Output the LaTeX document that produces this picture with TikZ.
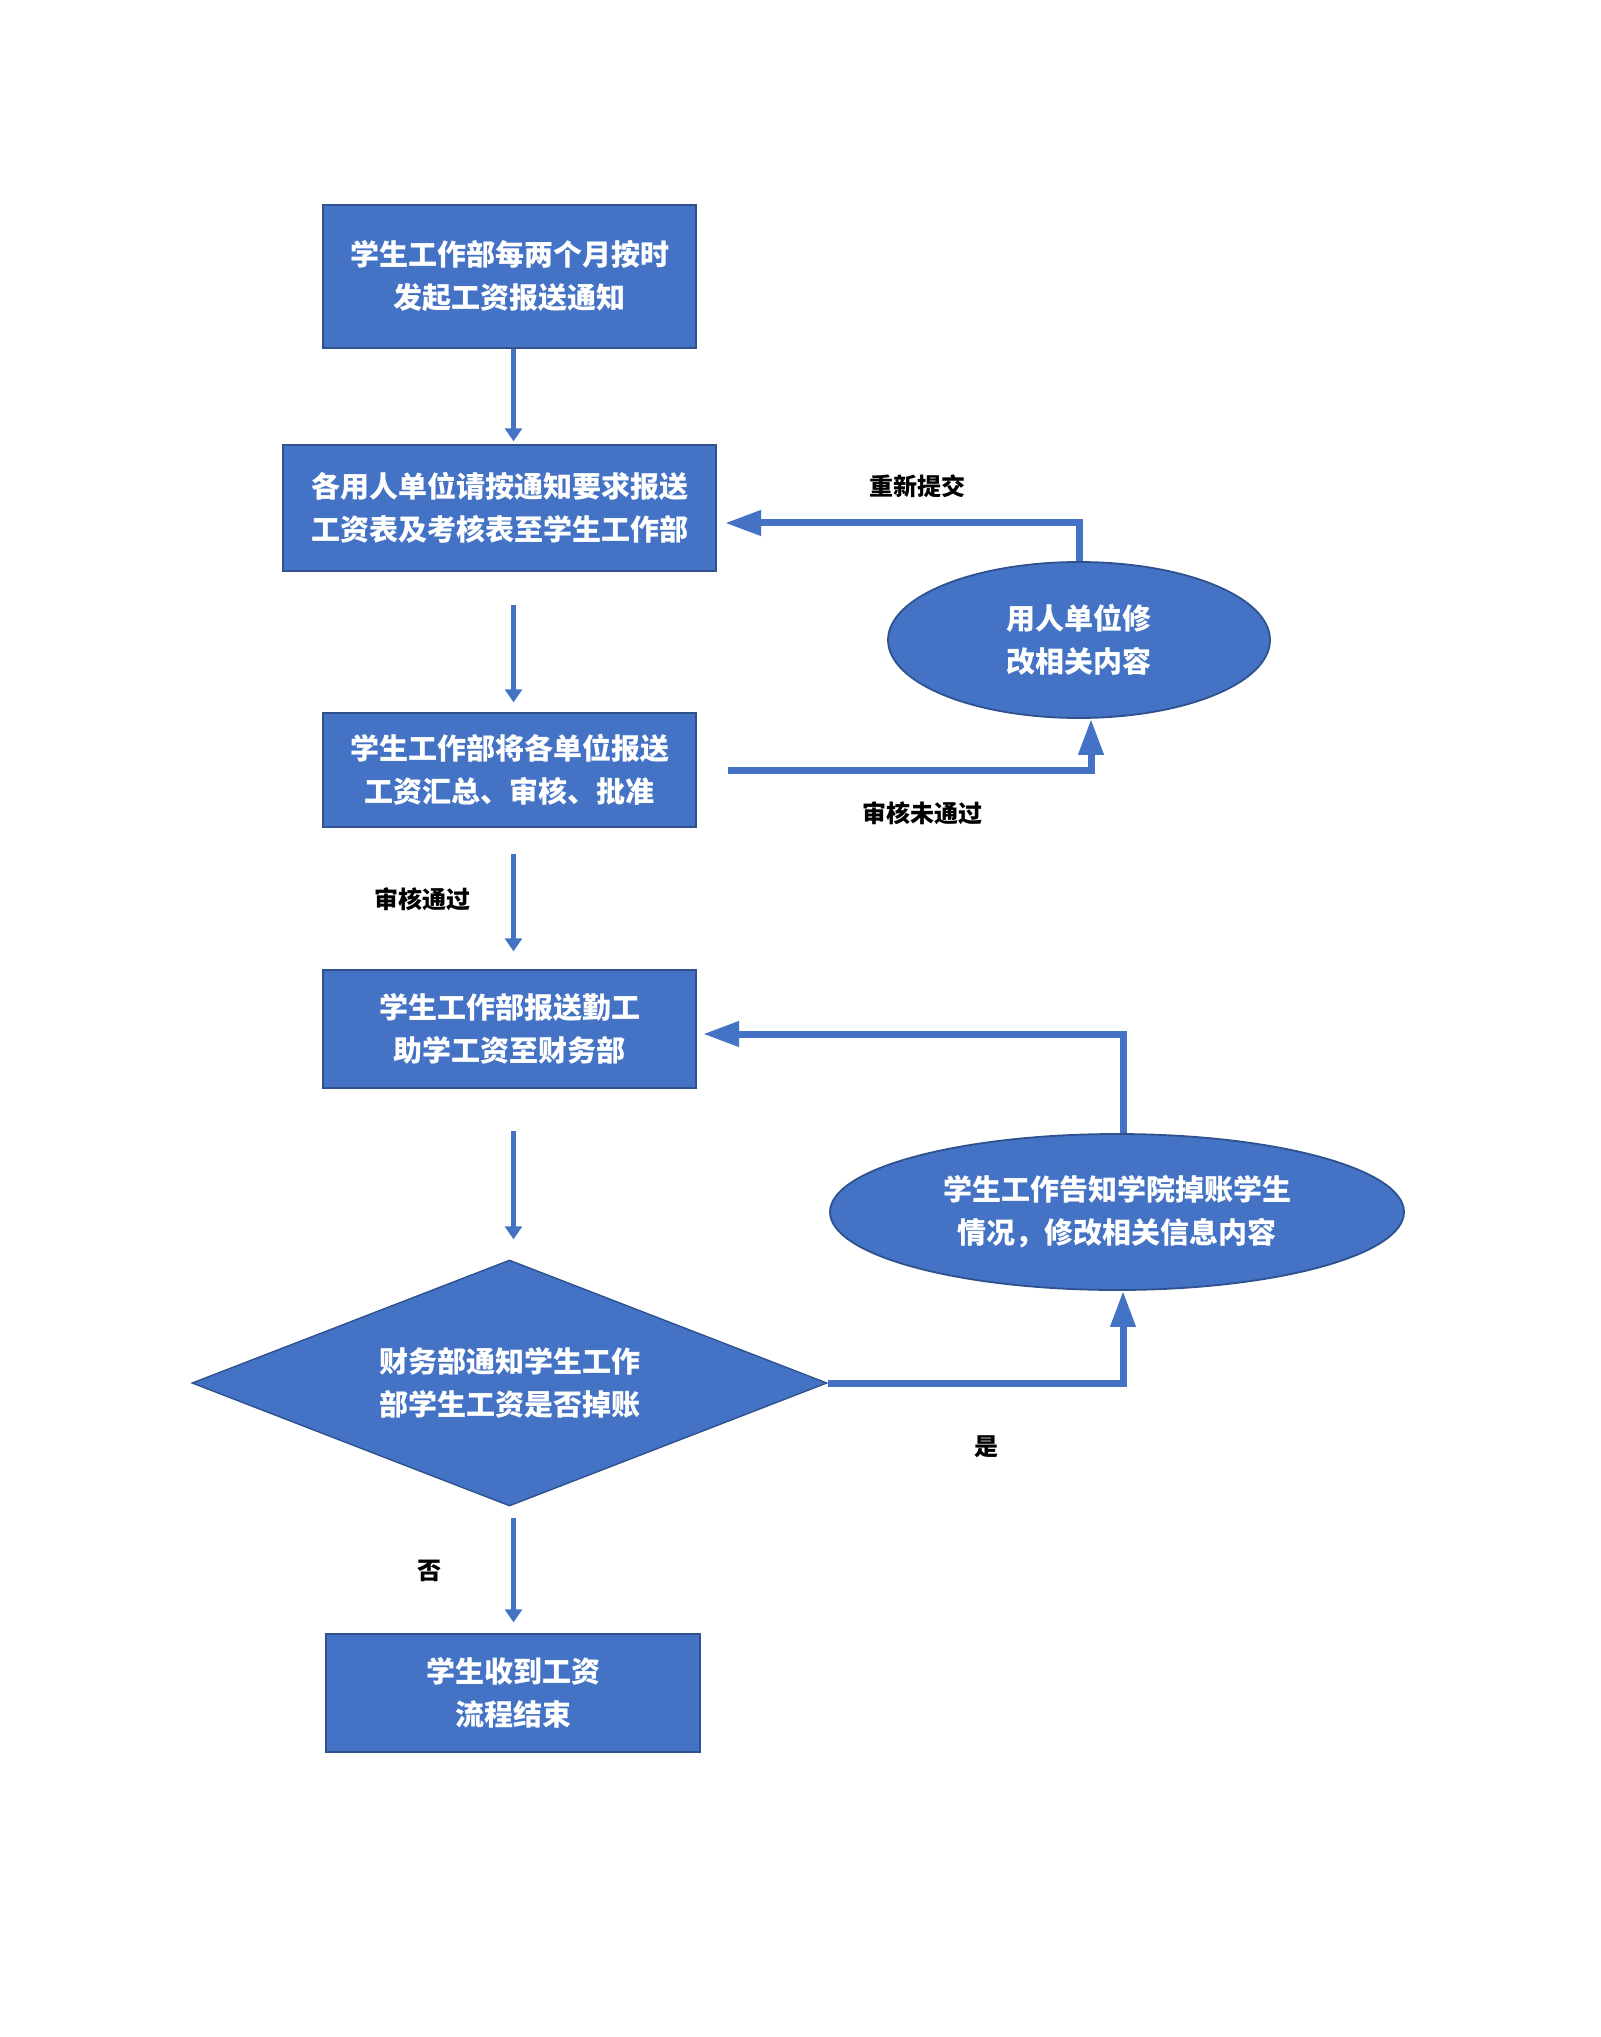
\documentclass[tikz,border=0pt]{standalone}
\usepackage{fontspec}
\setmainfont{Noto Sans CJK SC}
\usetikzlibrary{shapes.geometric,arrows.meta}
\definecolor{fillblue}{HTML}{4472C4}
\definecolor{edgeblue}{HTML}{2F528F}
\begin{document}
\begin{tikzpicture}[x=0.5pt,y=-0.5pt,
  stepbox/.style={rectangle, fill=fillblue, draw=edgeblue, line width=0.7pt, inner sep=0pt,
    text=white, align=center, font=\fontsize{14.5}{21.5}\selectfont\bfseries},
  ovalbox/.style={ellipse, fill=fillblue, draw=edgeblue, line width=0.9pt, inner sep=0pt,
    text=white, align=center, font=\fontsize{14.5}{21.5}\selectfont\bfseries},
  decbox/.style={diamond, shape aspect=2.58, fill=fillblue, draw=edgeblue, line width=0.7pt, inner sep=0pt,
    text=white, align=center, font=\fontsize{14.5}{21.5}\selectfont\bfseries},
  tag/.style={font=\fontsize{12}{14}\selectfont\bfseries, text=black, inner sep=0pt},
  flow/.style={draw=fillblue, line width=2.5pt, -{Triangle[length=6.5pt,width=8.5pt]}},
  backflow/.style={draw=fillblue, line width=3.5pt, -{Triangle[length=18pt,width=12pt]}}
]
\useasboundingbox (0,0) rectangle (1600,2037);
\fill[white] (0,0) rectangle (1600,2037);

\node[stepbox, minimum width=186.5pt, minimum height=71.5pt] (b1) at (509.5,276.5)
  {学生工作部每两个月按时\\发起工资报送通知};
\node[stepbox, minimum width=216.5pt, minimum height=63pt] (b2) at (499.5,508)
  {各用人单位请按通知要求报送\\工资表及考核表至学生工作部};
\node[stepbox, minimum width=186.5pt, minimum height=57pt] (b3) at (509.5,770)
  {学生工作部将各单位报送\\工资汇总、审核、批准};
\node[stepbox, minimum width=186.5pt, minimum height=59pt] (b4) at (509.5,1029)
  {学生工作部报送勤工\\助学工资至财务部};
\node[decbox, minimum width=317.5pt, minimum height=123pt] (d1) at (509.5,1383)
  {财务部通知学生工作\\部学生工资是否掉账};
\node[stepbox, minimum width=187pt, minimum height=59pt] (b5) at (513,1693)
  {学生收到工资\\流程结束};

\node[ovalbox, minimum width=191pt, minimum height=78pt] (e1) at (1079,640)
  {用人单位修\\改相关内容};
\node[ovalbox, minimum width=287pt, minimum height=78pt] (e2) at (1117,1212)
  {学生工作告知学院掉账学生\\情况，修改相关信息内容};

\node[tag] (l1) at (917,486) {重新提交};
\node[tag] (l2) at (922,813) {审核未通过};
\node[tag] (l3) at (422,899) {审核通过};
\node[tag] (l4) at (986,1447) {是};
\node[tag] (l5) at (429,1571) {否};

\coordinate (r1) at (725,523);
\coordinate (r2) at (703,1034);

\draw[flow, shorten >=1.5pt] ([xshift=2pt]b1.south) -- ([xshift=2pt]b1.south |- b2.north);
\draw[flow, shorten <=16.5pt, shorten >=5pt] ([xshift=7pt]b2.south) -- ([xshift=7pt]b2.south |- b3.north);
\draw[flow, shorten <=13pt, shorten >=9pt] ([xshift=2pt]b3.south) -- ([xshift=2pt]b3.south |- b4.north);
\draw[flow, shorten <=21pt, shorten >=10pt] ([xshift=2pt]b4.south) -- ([xshift=2pt]b4.south |- d1.north);
\draw[flow, shorten <=5.5pt, shorten >=5.5pt] ([xshift=2pt]d1.south) -- ([xshift=2pt]d1.south |- b5.north);

\draw[backflow] (e1.north) |- (r1);
\draw[backflow, shorten <=15.5pt] (b3.east) -| ([xshift=6pt]e1.south);
\draw[backflow] ([xshift=3pt]e2.north) |- (r2);
\draw[backflow] (d1.east) -| ([xshift=3pt]e2.south);
\end{tikzpicture}
\end{document}
